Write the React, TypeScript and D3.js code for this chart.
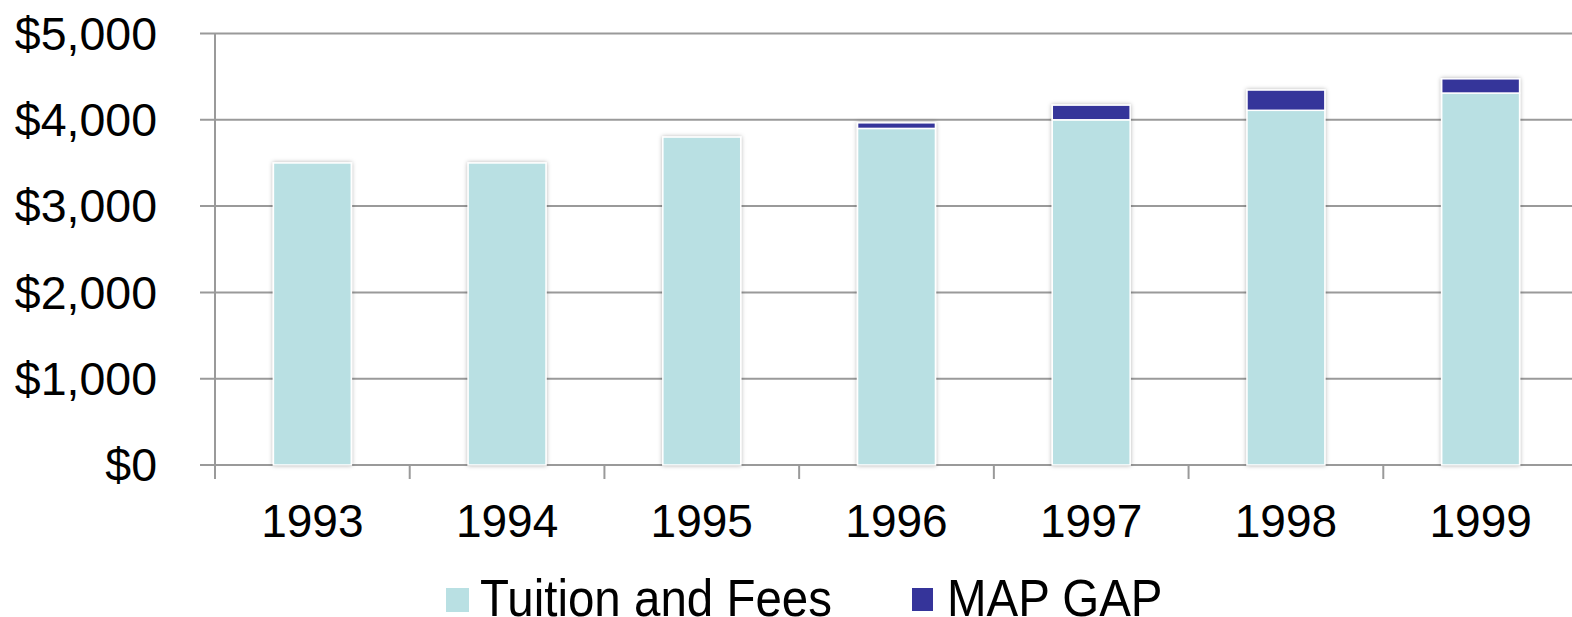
import React from 'react';
import { scaleBand, scaleLinear } from 'd3';

const years = ['1993', '1994', '1995', '1996', '1997', '1998', '1999'];
const tuition = [3500, 3500, 3800, 3900, 4000, 4110, 4310];
const mapGap = [0, 0, 0, 65, 170, 235, 165];
const yTicks = [0, 1000, 2000, 3000, 4000, 5000];

const W = 1572;
const H = 617;
const left = 215;
const right = 1578;
const top = 33.5;
const bottom = 465;

const LIGHT = '#b9e0e3';
const DARK = '#35349a';
const GRID = '#9a9a9a';
const FONT = '"Liberation Sans", Arial, sans-serif';

const App = () => {
  const x = scaleBand<string>()
    .domain(years)
    .range([left, right])
    .paddingInner(0.6)
    .paddingOuter(0.3);
  const y = scaleLinear().domain([0, 5000]).range([bottom, top]);
  const step = x.step();

  return (
    <svg
      width={W}
      height={H}
      style={{ position: 'absolute', left: 0, top: 0, background: '#fff' }}
      fontFamily={FONT}
    >
      <defs>
        <filter id="shadow" x="-20%" y="-20%" width="140%" height="140%">
          <feDropShadow dx="0" dy="0" stdDeviation="2" floodColor="#000" floodOpacity="0.3" />
        </filter>
      </defs>

      {/* gridlines + y labels */}
      {yTicks.map(t => (
        <g key={t}>
          <line x1={left - 15} x2={right} y1={y(t)} y2={y(t)} stroke={GRID} strokeWidth={2} />
          <text x={157} y={y(t)} dy="0.35em" textAnchor="end" fontSize={46.5} fill="#000">
            {'$' + t.toLocaleString('en-US')}
          </text>
        </g>
      ))}

      {/* y axis */}
      <line x1={left} x2={left} y1={top} y2={bottom + 14} stroke={GRID} strokeWidth={2} />

      {/* category ticks */}
      {years.map((yr, i) => (
        <line
          key={yr}
          x1={left + step * (i + 1)}
          x2={left + step * (i + 1)}
          y1={bottom}
          y2={bottom + 14}
          stroke={GRID}
          strokeWidth={2}
        />
      ))}

      {/* bars */}
      {years.map((yr, i) => {
        const bx = x(yr) as number;
        const bw = x.bandwidth();
        const t = tuition[i];
        const g = mapGap[i];
        return (
          <g key={yr} filter="url(#shadow)">
            <rect
              x={bx}
              y={y(t)}
              width={bw}
              height={bottom - y(t)}
              fill={LIGHT}
              stroke="#fff"
              strokeWidth={1.5}
            />
            {g > 0 && (
              <rect
                x={bx}
                y={y(t + g)}
                width={bw}
                height={y(t) - y(t + g)}
                fill={DARK}
                stroke="#fff"
                strokeWidth={1.5}
              />
            )}
          </g>
        );
      })}

      {/* x labels */}
      {years.map(yr => (
        <text
          key={yr}
          x={(x(yr) as number) + x.bandwidth() / 2}
          y={537}
          textAnchor="middle"
          fontSize={46}
          fill="#000"
        >
          {yr}
        </text>
      ))}

      {/* legend (cut at the bottom edge, as in the original) */}
      <rect x={446} y={588} width={23} height={24} fill={LIGHT} />
      <rect x={912} y={588} width={21} height={23} fill={DARK} />
      <g transform="translate(0,616) scale(1,1.1)">
        <text x={480} y={0} fontSize={47.5} fill="#000">Tuition and Fees</text>
        <text x={947} y={0} fontSize={47.5} fill="#000">MAP GAP</text>
      </g>
    </svg>
  );
};

export default App;
